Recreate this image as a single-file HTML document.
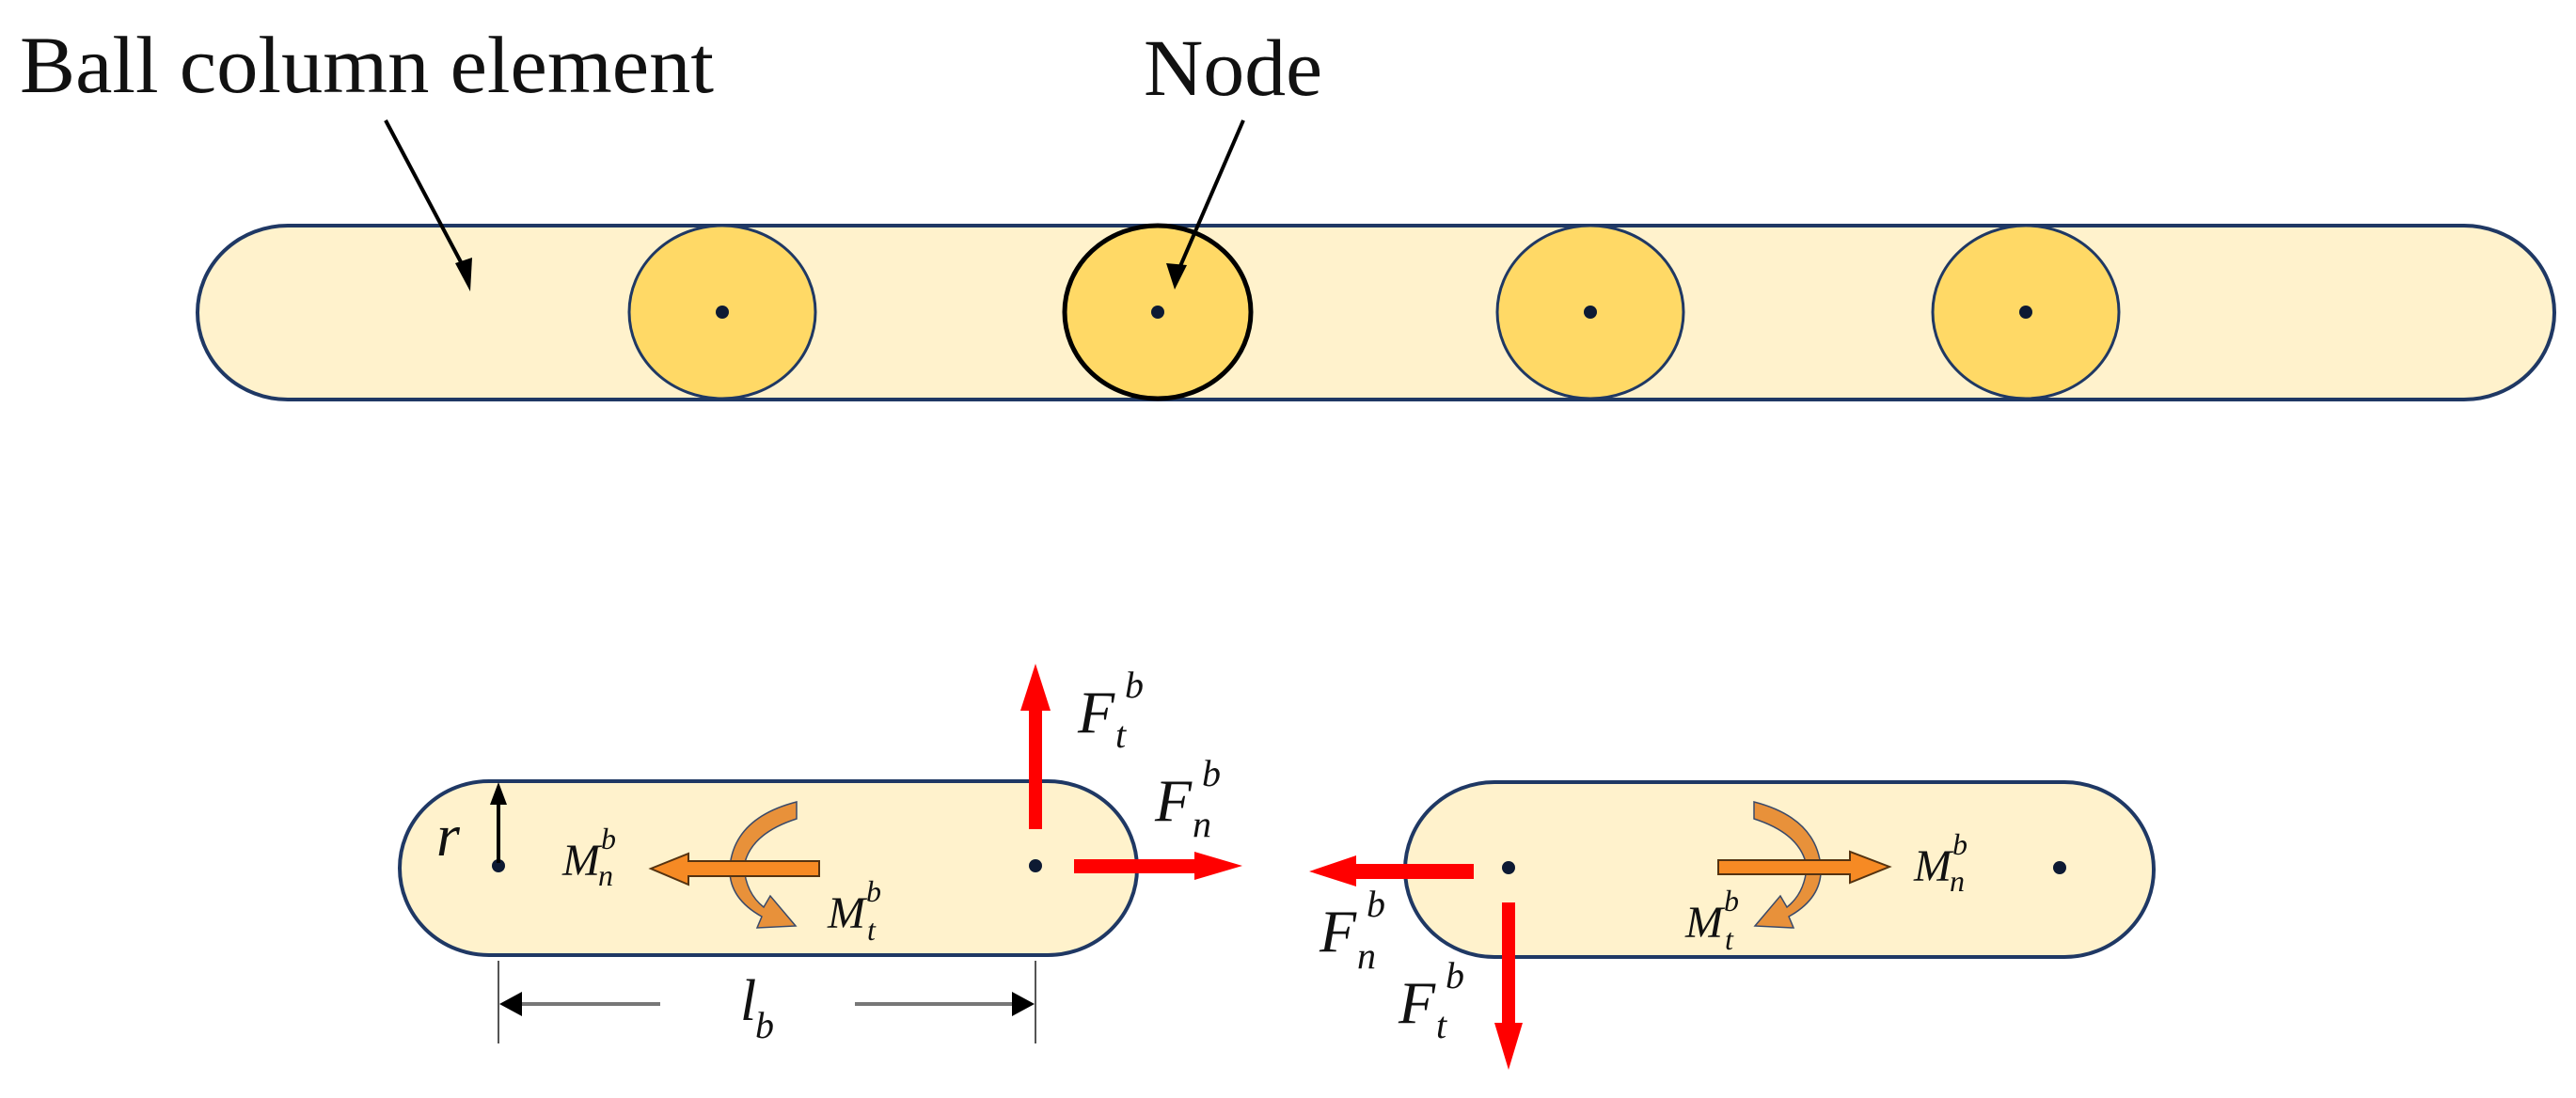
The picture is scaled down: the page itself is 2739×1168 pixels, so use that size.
<!DOCTYPE html>
<html><head><meta charset="utf-8"><style>
html,body{margin:0;padding:0;background:#fff;}
svg{display:block;}
text{font-family:"Liberation Serif",serif;fill:#111;}
.m{font-style:italic;}
</style></head><body>
<svg width="2739" height="1168" viewBox="0 0 2739 1168" xmlns="http://www.w3.org/2000/svg">
<!-- top labels -->
<text x="21" y="98" font-size="86" textLength="738" lengthAdjust="spacingAndGlyphs">Ball column element</text>
<text x="1216" y="101" font-size="86" textLength="190" lengthAdjust="spacingAndGlyphs">Node</text>
<!-- top bar -->
<rect x="210" y="240" width="2506" height="185" rx="96" ry="92.5" fill="#FFF2CC" stroke="#1F3864" stroke-width="4"/>
<ellipse cx="768" cy="332" rx="99" ry="92" fill="#FFD966" stroke="#1F3864" stroke-width="3"/>
<ellipse cx="1231" cy="332" rx="99" ry="92" fill="#FFD966" stroke="#000" stroke-width="5"/>
<ellipse cx="1691" cy="332" rx="99" ry="92" fill="#FFD966" stroke="#1F3864" stroke-width="3"/>
<ellipse cx="2154" cy="332" rx="99" ry="92" fill="#FFD966" stroke="#1F3864" stroke-width="3"/>
<circle cx="768" cy="332" r="7" fill="#0d1a33"/>
<circle cx="1231" cy="332" r="7" fill="#0d1a33"/>
<circle cx="1691" cy="332" r="7" fill="#0d1a33"/>
<circle cx="2154" cy="332" r="7" fill="#0d1a33"/>
<!-- pointers -->
<line x1="410" y1="128" x2="496" y2="290" stroke="#000" stroke-width="4"/>
<path d="M484,280 L500,310 L502,274 z" fill="#000"/>
<line x1="1322" y1="128" x2="1252" y2="290" stroke="#000" stroke-width="4"/>
<path d="M1240,280 L1249,308 L1262,282 z" fill="#000"/>

<!-- bottom left pill -->
<rect x="425" y="831" width="784" height="185" rx="95" ry="92.5" fill="#FFF2CC" stroke="#1F3864" stroke-width="4"/>
<circle cx="530" cy="921" r="7" fill="#0d1a33"/>
<circle cx="1101" cy="921" r="7" fill="#0d1a33"/>
<!-- r arrow -->
<line x1="530" y1="918" x2="530" y2="850" stroke="#000" stroke-width="4"/>
<path d="M521,856 L530,832 L539,856 z" fill="#000"/>
<text class="m" x="464" y="910" font-size="64">r</text>
<!-- curved arrow left -->
<path d="M847,853 L847,871 Q797,887 791,922 Q793,950 812,965 L819,953 L846,985 L805,987 L810,975 Q774,955 776,922 Q781,870 847,853 Z" fill="#E8913A" stroke="#3a4a6a" stroke-width="1.5"/>
<!-- Mn arrow left -->
<path d="M871,916 L732,916 L732,908 L692,924 L732,941 L732,932 L871,932 Z" fill="#F68A24" stroke="#553311" stroke-width="2"/>
<text class="m" x="598" y="931" font-size="48">M</text><text class="m" x="639" y="903" font-size="32">b</text><text class="m" x="636" y="942" font-size="32">n</text>
<text class="m" x="880" y="987" font-size="48">M</text><text class="m" x="921" y="959" font-size="32">b</text><text class="m" x="922" y="1000" font-size="32">t</text>
<!-- red up -->
<rect x="1094" y="752" width="14" height="130" fill="#FF0000"/>
<path d="M1085,756 L1101,706 L1117,756 z" fill="#FF0000"/>
<text class="m" x="1146" y="779" font-size="64">F</text><text class="m" x="1196" y="742" font-size="40">b</text><text class="m" x="1186" y="795" font-size="40">t</text>
<!-- red right -->
<rect x="1142" y="914" width="130" height="15" fill="#FF0000"/>
<path d="M1270,906 L1321,921 L1270,936 z" fill="#FF0000"/>
<text class="m" x="1228" y="873" font-size="64">F</text><text class="m" x="1278" y="836" font-size="40">b</text><text class="m" x="1268" y="890" font-size="40">n</text>
<!-- dimension -->
<line x1="530" y1="1022" x2="530" y2="1110" stroke="#555" stroke-width="2"/>
<line x1="1101" y1="1022" x2="1101" y2="1110" stroke="#555" stroke-width="2"/>
<line x1="545" y1="1068" x2="702" y2="1068" stroke="#777" stroke-width="4"/>
<line x1="909" y1="1068" x2="1086" y2="1068" stroke="#777" stroke-width="4"/>
<path d="M531,1068 L555,1055 L555,1081 z" fill="#000"/>
<path d="M1100,1068 L1076,1055 L1076,1081 z" fill="#000"/>
<text class="m" x="787" y="1085" font-size="62">l</text><text class="m" x="803" y="1104" font-size="40">b</text>

<!-- bottom right pill -->
<rect x="1494" y="832" width="796" height="186" rx="95" ry="93" fill="#FFF2CC" stroke="#1F3864" stroke-width="4"/>
<circle cx="1604" cy="923" r="7" fill="#0d1a33"/>
<circle cx="2190" cy="923" r="7" fill="#0d1a33"/>
<g transform="translate(2712,0) scale(-1,1)">
<path d="M847,853 L847,871 Q797,887 791,922 Q793,950 812,965 L819,953 L846,985 L805,987 L810,975 Q774,955 776,922 Q781,870 847,853 Z" fill="#E8913A" stroke="#3a4a6a" stroke-width="1.5"/>
</g>
<path d="M1827,915 L1967,915 L1967,906 L2009,922 L1967,939 L1967,930 L1827,930 Z" fill="#F68A24" stroke="#553311" stroke-width="2"/>
<text class="m" x="2035" y="937" font-size="48">M</text><text class="m" x="2076" y="909" font-size="32">b</text><text class="m" x="2073" y="948" font-size="32">n</text>
<text class="m" x="1792" y="997" font-size="48">M</text><text class="m" x="1833" y="969" font-size="32">b</text><text class="m" x="1834" y="1010" font-size="32">t</text>
<!-- red left -->
<rect x="1440" y="919" width="127" height="16" fill="#FF0000"/>
<path d="M1442,910 L1392,927 L1442,943 z" fill="#FF0000"/>
<text class="m" x="1403" y="1012" font-size="64">F</text><text class="m" x="1453" y="975" font-size="40">b</text><text class="m" x="1443" y="1030" font-size="40">n</text>
<!-- red down -->
<rect x="1597" y="960" width="14" height="130" fill="#FF0000"/>
<path d="M1589,1088 L1604,1138 L1619,1088 z" fill="#FF0000"/>
<text class="m" x="1487" y="1088" font-size="64">F</text><text class="m" x="1537" y="1051" font-size="40">b</text><text class="m" x="1527" y="1104" font-size="40">t</text>
</svg>
</body></html>
